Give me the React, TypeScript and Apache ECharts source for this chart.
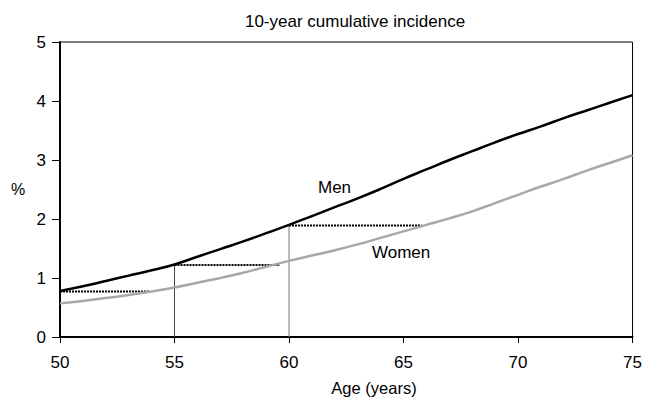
import React, { useEffect, useRef } from "react";
import * as echarts from "echarts";

const ages = [50, 51, 52, 53, 54, 55, 56, 57, 58, 59, 60, 61, 62, 63, 64, 65, 66, 67, 68, 69, 70, 71, 72, 73, 74, 75];
const men = [0.78, 0.86, 0.95, 1.04, 1.13, 1.23, 1.36, 1.49, 1.62, 1.76, 1.9, 2.05, 2.2, 2.35, 2.51, 2.68, 2.84, 3.0, 3.15, 3.3, 3.44, 3.57, 3.71, 3.84, 3.97, 4.1];
const women = [0.57, 0.61, 0.66, 0.71, 0.77, 0.84, 0.92, 1.0, 1.09, 1.19, 1.29, 1.38, 1.47, 1.57, 1.68, 1.79, 1.9, 2.01, 2.13, 2.27, 2.41, 2.55, 2.68, 2.82, 2.95, 3.08];
// dotted equivalence lines: [startAge, endAge, value]
const equivLines = [
  [50, 53.9, 0.77],
  [55, 59.6, 1.22],
  [60, 65.8, 1.89],
];
// vertical reference lines: [age, value]
const vertLines = [
  [55, 1.22],
  [60, 1.9],
];

export default function App() {
  const ref = useRef<HTMLDivElement>(null);
  useEffect(() => {
    const chart = echarts.init(ref.current!, null, { renderer: "svg" });
    const font = "Liberation Sans, Arial, sans-serif";
    const series: any[] = [];
    vertLines.forEach(([a, v], i) => {
      series.push({
        type: "line",
        data: [[a, 0], [a, v]],
        symbol: "none",
        lineStyle: { color: i === 0 ? "#444" : "#777", width: 1 },
        z: 1,
      });
    });
    equivLines.forEach(([a, b, v]) => {
      series.push({
        type: "line",
        data: [[a, v], [b, v]],
        symbol: "none",
        lineStyle: { color: "#000", width: 2, type: [2, 1] },
        z: 2,
      });
    });
    series.push({
      type: "line",
      name: "Women",
      data: ages.map((a, i) => [a, women[i]]),
      symbol: "none",
      smooth: true,
      lineStyle: { color: "#a8a8a8", width: 2.5 },
      z: 3,
    });
    series.push({
      type: "line",
      name: "Men",
      data: ages.map((a, i) => [a, men[i]]),
      symbol: "none",
      smooth: true,
      lineStyle: { color: "#000", width: 2.5 },
      z: 4,
    });
    chart.setOption({
      animation: false,
      backgroundColor: "#fff",
      textStyle: { fontFamily: font },
      title: {
        text: "10-year cumulative incidence",
        left: 350,
        textAlign: "center",
        top: 8,
        textStyle: { fontSize: 17, fontWeight: "normal", color: "#000", fontFamily: font },
      },
      grid: {
        left: 60,
        right: 10,
        top: 42,
        bottom: 64,
        show: true,
        borderColor: "#000",
        borderWidth: 1,
      },
      xAxis: {
        type: "value",
        min: 50,
        max: 75,
        interval: 5,
        axisLine: { lineStyle: { color: "#000", width: 2 } },
        axisTick: { show: true, length: 6, lineStyle: { color: "#000", width: 1 } },
        axisLabel: { fontSize: 17, color: "#000", margin: 17, fontFamily: font },
        splitLine: { show: false },
      },
      yAxis: {
        type: "value",
        min: 0,
        max: 5,
        interval: 1,
        axisLine: { show: true, lineStyle: { color: "#000", width: 2 } },
        axisTick: { show: true, length: 8, lineStyle: { color: "#000", width: 1 } },
        axisLabel: { fontSize: 17, color: "#000", margin: 14, fontFamily: font },
        splitLine: { show: false },
      },
      graphic: [
        { type: "text", left: 11, top: 181, style: { text: "%", fontSize: 16, fill: "#000", fontFamily: font } },
        { type: "text", x: 374, y: 379, style: { text: "Age (years)", fontSize: 16.5, fill: "#000", fontFamily: font, textAlign: "center", textVerticalAlign: "top" } },
        { type: "text", left: 318, top: 179, style: { text: "Men", fontSize: 17, fill: "#000", fontFamily: font } },
        { type: "text", left: 372, top: 244, style: { text: "Women", fontSize: 17, fill: "#000", fontFamily: font } },
      ],
      series,
    });
    return () => chart.dispose();
  }, []);
  return <div ref={ref} style={{ width: 645, height: 401, position: "absolute", left: 0, top: 0 }} />;
}
